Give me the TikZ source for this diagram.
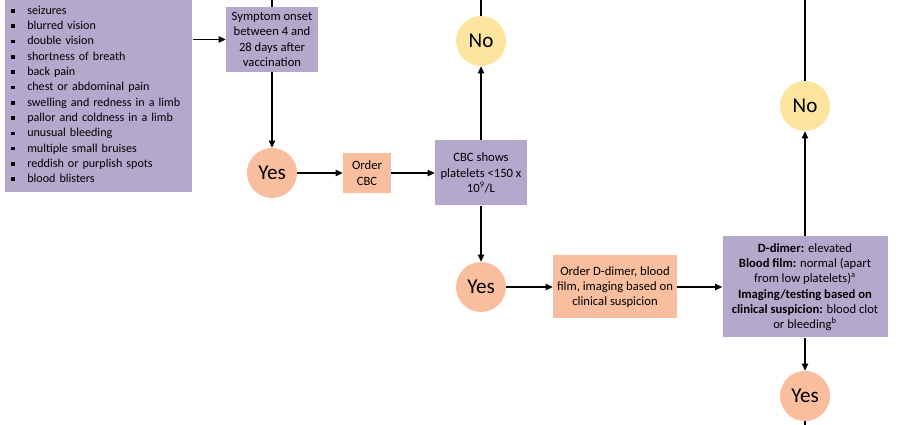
\documentclass[tikz,border=0pt]{standalone}
\usepackage{fontspec}
\setmainfont{Carlito}
\usetikzlibrary{arrows.meta,positioning}
\definecolor{lilac}{HTML}{B5A8CD}
\definecolor{peach}{HTML}{F9BE9E}
\definecolor{sand}{HTML}{FDE5A0}
\newcommand{\sqbul}{\makebox[0.4cm][l]{\rule[1.2pt]{2.6pt}{2.6pt}}}

\begin{document}
\begin{tikzpicture}[
    font=\fontsize{9}{10.9}\selectfont,
    every node/.style={inner sep=0pt},
    box/.style={fill=lilac, align=center, minimum width=2.3cm, minimum height=1.625cm},
    order/.style={fill=peach, align=center},
    yes/.style={circle, fill=peach, minimum size=1.25cm, font=\fontsize{15}{18}\selectfont},
    no/.style={yes, fill=sand},
    arr/.style={-{Triangle[length=5pt,width=4.5pt]}, line width=0.8pt},
    ln/.style={line width=0.8pt}
]
    \clip (0,0) rectangle (23,10.625);

    \node[fill=lilac, anchor=south west, text width=4.375cm, inner xsep=0.15cm, inner ysep=0.22cm, align=left,
          font=\fontsize{8.6}{10.9}\selectfont] (symptoms) at (0.125,5.825)
        {\mbox{}\\
         \sqbul seizures\\
         \sqbul blurred vision\\
         \sqbul double vision\\
         \sqbul shortness of breath\\
         \sqbul back pain\\
         \sqbul chest or abdominal pain\\
         \sqbul swelling and redness in a limb\\
         \sqbul pallor and coldness in a limb\\
         \sqbul unusual bleeding\\
         \sqbul multiple small bruises\\
         \sqbul reddish or purplish spots\\
         \sqbul blood blisters};

    \node[box] (onset) at (6.8,9.6375) {Symptom onset\\between 4 and\\28 days after\\vaccination};
    \node[yes] (yes1) at (6.8,6.3) {Yes};
    \node[order, minimum width=1.2cm, minimum height=1cm] (ordercbc) at (9.175,6.3) {Order\\CBC};
    \node[box] (platelets) at (12.025,6.3) {CBC shows\\platelets <150 x\\10\textsuperscript{9}/L};
    \node[no] (no1) at (12.025,9.6) {No};
    \node[yes] (yes2) at (12.025,3.45) {Yes};
    \node[order, minimum width=3.1cm, minimum height=1.575cm] (orderdd) at (15.375,3.45)
        {Order D-dimer, blood\\film, imaging based on\\clinical suspicion};
    \node[box, minimum width=4.125cm, minimum height=2.525cm] (ddimer) at (20.125,3.45)
        {\textbf{D-dimer:} elevated\\
         \textbf{Blood film:} normal (apart\\
         from low platelets)\textsuperscript{a}\\
         \textbf{Imaging/testing based on}\\
         \textbf{clinical suspicion:} blood clot\\
         or bleeding\textsuperscript{b}};
    \node[no] (no2) at (20.125,7.975) {No};
    \node[yes] (yes3) at (20.125,0.725) {Yes};

    % lines leaving the cropped view
    \coordinate (up1) at (6.8,11);
    \coordinate (up2) at (12.025,11);
    \coordinate (up3) at (20.125,11);
    \coordinate (down3) at (20.125,-0.5);

    \draw[arr] (symptoms.east |- onset.west) -- (onset.west);
    \draw[arr] (onset) -- (yes1);
    \draw[arr] (yes1) -- (ordercbc);
    \draw[arr] (ordercbc) -- (platelets);
    \draw[arr] (platelets) -- (no1);
    \draw[arr] (platelets) -- (yes2);
    \draw[arr] (yes2) -- (orderdd);
    \draw[arr] (orderdd) -- (ddimer);
    \draw[arr] (ddimer) -- (no2);
    \draw[arr] (ddimer) -- (yes3);

    \draw[ln] (onset) -- (up1);
    \draw[ln] (no1) -- (up2);
    \draw[ln] (no2) -- (up3);
    \draw[ln] (yes3) -- (down3);
\end{tikzpicture}
\end{document}
